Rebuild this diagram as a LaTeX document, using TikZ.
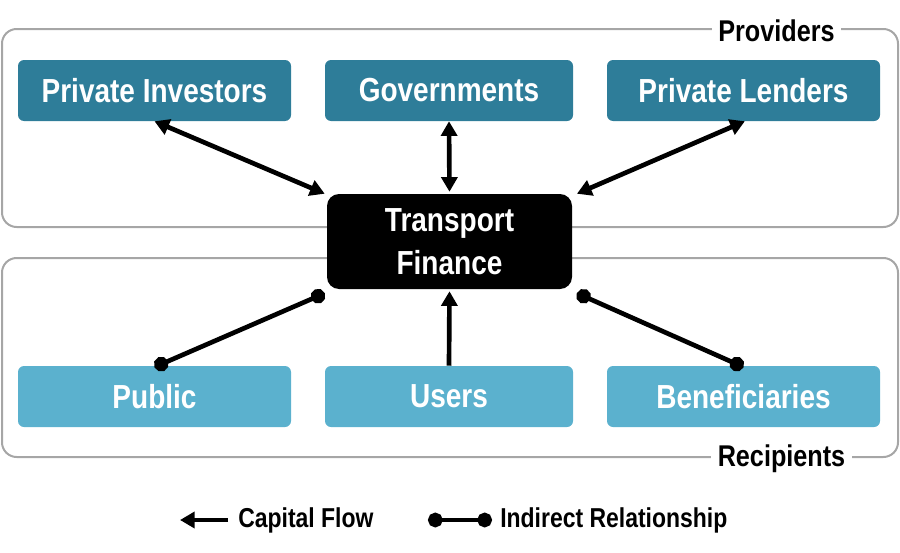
\documentclass[tikz,border=0pt]{standalone}
\usepackage{fontspec}
\setmainfont{Liberation Sans}[FakeStretch=0.84]
\usetikzlibrary{arrows.meta}
\definecolor{darkteal}{HTML}{2E7D99}
\definecolor{lightteal}{HTML}{5BB1CE}
\definecolor{framegray}{HTML}{A6A6A6}
\tikzset{
  frame/.style={draw=framegray, line width=1.5pt, rounded corners=11pt},
  framelabel/.style={fill=white, text=black, font=\bfseries\fontsize{22.5}{24}\selectfont, inner sep=5pt},
  provider/.style={fill=darkteal, text=white, rounded corners=4.5pt, minimum height=45.75pt, font=\bfseries\fontsize{25}{28}\selectfont},
  recipient/.style={fill=lightteal, text=white, rounded corners=4.5pt, minimum height=45.75pt, font=\bfseries\fontsize{25}{28}\selectfont},
  hub/.style={fill=black, text=white, rounded corners=9pt, minimum width=183.75pt, minimum height=71.25pt, align=center, font=\bfseries\fontsize{25}{32}\selectfont},
  flow/.style={line width=3.5pt, -{Triangle[length=11pt,width=12pt]}},
  twoflow/.style={line width=3.5pt, {Triangle[length=11pt,width=12pt]}-{Triangle[length=11pt,width=12pt]}},
  indirect/.style={line width=3.5pt, {Circle[length=11pt]}-{Circle[length=11pt]}},
  legendtext/.style={anchor=west, text=black, inner sep=0pt, font=\bfseries\fontsize{20.5}{22}\selectfont}
}
\begin{document}
\begin{tikzpicture}[x=0.75pt, y=-0.75pt]
\useasboundingbox (0,0) rectangle (900,553);
% group frames
\draw[frame] (2,29) rectangle (898,227);
\draw[frame] (2,258) rectangle (898,457);
\node[framelabel] (provlabel) at (776.5,31) {Providers};
\node[framelabel] (reclabel) at (781.5,459) {Recipients};
% provider nodes
\node[provider, minimum width=204.75pt] (pi) at (154.5,90.5) {Private Investors};
\node[provider, minimum width=186pt] (gov) at (449,90.5) {Governments};
\node[provider, minimum width=204.75pt] (pl) at (743.5,90.5) {Private Lenders};
% hub
\node[hub] (tf) at (449.5,241.5) {Transport\\Finance};
% recipient nodes
\node[recipient, minimum width=204.75pt] (pub) at (154.5,396.5) {Public};
\node[recipient, minimum width=186pt] (users) at (449,396.5) {Users};
\node[recipient, minimum width=204.75pt] (ben) at (743.5,396.5) {Beneficiaries};
% connectors
\draw[twoflow] (pi.south) -- ([xshift=-1.5pt]tf.north west);
\draw[twoflow] (gov.south) -- ([yshift=1.5pt]tf.north);
\draw[twoflow] ([xshift=1pt]pl.south) -- ([xshift=3.5pt]tf.north east);
\draw[indirect] ([yshift=-1pt]pub.north) -- ([xshift=-1.5pt,yshift=-3pt]tf.south west);
\draw[flow] (users.north) -- ([yshift=-1.5pt]tf.south);
\draw[indirect] ([yshift=-1pt]ben.north) -- ([xshift=3.5pt,yshift=-3pt]tf.south east);
% legend
\coordinate (lfa) at (228,520);
\coordinate (lfb) at (180,520);
\draw[flow] (lfa) -- (lfb);
\node[legendtext] (lflow) at (238,520) {Capital Flow};
\coordinate (lia) at (428,520);
\coordinate (lib) at (492,520);
\draw[indirect] (lia) -- (lib);
\node[legendtext] (lind) at (500,520) {Indirect Relationship};
\end{tikzpicture}
\end{document}
